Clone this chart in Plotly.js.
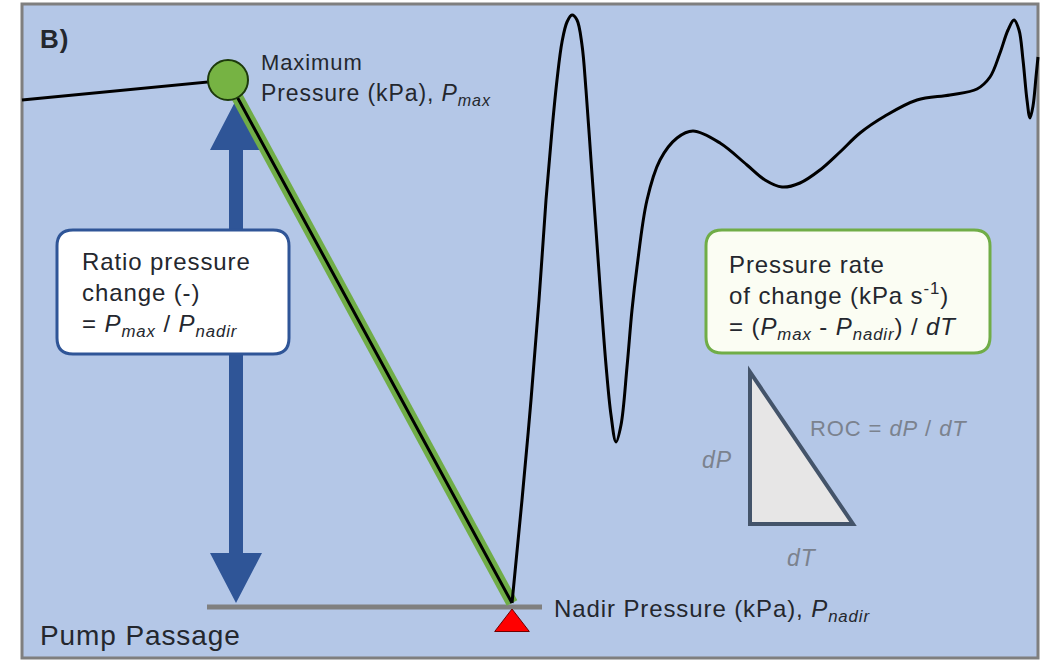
<!DOCTYPE html>
<html><head><meta charset="utf-8">
<script src="https://cdn.plot.ly/plotly-3.0.1.min.js"></script>
<style>html,body{margin:0;padding:0;background:#fff;}#chart{width:1040px;height:662px;}
#chart .annotation-text{letter-spacing:0.9px;}</style>
</head><body><div id="chart"></div>
<script>
// ---- data (time units, pressure units; pressure increases upward) ----
var leadTime = [22, 228, 512];
var leadPressure = [562, 582, 59];

var traceTime = [512, 522, 531, 539, 546, 552, 557, 562, 567, 572, 577, 582, 586, 591, 596, 601, 606, 611, 616, 621, 627, 632, 637, 647, 660, 677, 693, 720, 747, 765, 782, 800, 820, 840, 860, 885, 917, 950, 977, 990, 1000, 1008, 1014, 1019, 1023, 1027, 1030, 1033, 1036, 1038];
var tracePressure = [59, 162, 262, 362, 462, 532, 582, 620, 640, 647, 642, 617, 572, 502, 432, 362, 297, 247, 220, 237, 295, 352, 395, 462, 502, 524, 531, 519, 497, 482, 475, 479, 492, 510, 529, 546, 562, 567, 573, 585, 609, 632, 642, 632, 602, 562, 544, 556, 585, 605];

var maxTime = 228, maxPressure = 582;
var nadirTime = 512, nadirPressure = 59;

// ---- helpers ----
function Y(py){ return 662 - py; } // layout positions in page pixels -> axis units
function roundRect(x0, y0, x1, y1, r){
  var a = Y(y0), b = Y(y1);
  return 'M' + (x0 + r) + ',' + a + ' L' + (x1 - r) + ',' + a + ' Q' + x1 + ',' + a + ' ' + x1 + ',' + (a - r) +
    ' L' + x1 + ',' + (b + r) + ' Q' + x1 + ',' + b + ' ' + (x1 - r) + ',' + b +
    ' L' + (x0 + r) + ',' + b + ' Q' + x0 + ',' + b + ' ' + x0 + ',' + (b + r) +
    ' L' + x0 + ',' + (a - r) + ' Q' + x0 + ',' + a + ' ' + (x0 + r) + ',' + a + ' Z';
}
// double arrow between Pmax (below the marker) and Pnadir
var ax = 236, headH = 50, headW = 26, shaftW = 7;
var aTop = maxPressure - 20, aBot = nadirPressure;
var arrowPath = 'M' + ax + ',' + aTop + ' L' + (ax + headW) + ',' + (aTop - headH) + ' L' + (ax + shaftW) + ',' + (aTop - headH) +
  ' L' + (ax + shaftW) + ',' + (aBot + headH) + ' L' + (ax + headW) + ',' + (aBot + headH) + ' L' + ax + ',' + aBot +
  ' L' + (ax - headW) + ',' + (aBot + headH) + ' L' + (ax - shaftW) + ',' + (aBot + headH) +
  ' L' + (ax - shaftW) + ',' + (aTop - headH) + ' L' + (ax - headW) + ',' + (aTop - headH) + ' Z';

var FONT = 'Liberation Sans, Arial, sans-serif';
var dark = '#24272e', grey = '#7b828e';

var traces = [
  {x: [maxTime, nadirTime], y: [maxPressure, nadirPressure], mode: 'lines', line: {color: '#70AD47', width: 12}, hoverinfo: 'skip'},
  {x: leadTime, y: leadPressure, mode: 'lines', line: {color: '#000', width: 3}, hoverinfo: 'skip'},
  {x: traceTime, y: tracePressure, mode: 'lines', line: {color: '#000', width: 3, shape: 'spline', smoothing: 1}, hoverinfo: 'skip'},
  {x: [maxTime], y: [maxPressure], mode: 'markers', marker: {size: 40, color: '#76B343', line: {color: '#1d3a0c', width: 2}}, hoverinfo: 'skip'},
  {x: [nadirTime], y: [nadirPressure - 21], mode: 'markers', marker: {symbol: 'triangle-up', size: 30, color: '#FF0000', line: {color: '#700000', width: 1}}, hoverinfo: 'skip'}
];

var shapes = [
  {type: 'rect', xref: 'x', yref: 'y', x0: 22, x1: 1038, y0: Y(4), y1: Y(658), fillcolor: '#B4C7E7', line: {color: '#7f7f7f', width: 3}, layer: 'below'},
  {type: 'path', xref: 'x', yref: 'y', path: arrowPath, fillcolor: '#2F5597', line: {width: 0}, layer: 'below'},
  {type: 'path', xref: 'x', yref: 'y', path: roundRect(57, 230, 289, 354, 16), fillcolor: '#FFFFFF', line: {color: '#2F5597', width: 3}, layer: 'below'},
  {type: 'path', xref: 'x', yref: 'y', path: roundRect(706, 230, 990, 353, 16), fillcolor: '#FBFDF3', line: {color: '#70AD47', width: 3}, layer: 'below'},
  {type: 'line', xref: 'x', yref: 'y', x0: 207, x1: 542, y0: nadirPressure - 4, y1: nadirPressure - 4, line: {color: '#808080', width: 5}, layer: 'below'},
  {type: 'path', xref: 'x', yref: 'y', path: 'M750,' + Y(372) + ' L750,' + Y(524) + ' L853,' + Y(524) + ' Z', fillcolor: '#E7E6E6', line: {color: '#44546A', width: 4}, layer: 'below'}
];

function ann(x, top, text, size, color){
  return {x: x, y: Y(top), xref: 'x', yref: 'y', text: text, showarrow: false, xanchor: 'left', yanchor: 'top', align: 'left',
    font: {family: FONT, size: size, color: color}};
}
var annotations = [
  ann(38, 22, '<b>B)</b>', 26, dark),
  ann(259, 48, 'Maximum', 22, dark),
  ann(259, 78, 'Pressure (kPa), <i>P</i><sub><i>max</i></sub>', 23, dark),
  ann(80, 246, 'Ratio pressure<br>change (-)<br>= <i>P</i><sub><i>max</i></sub> / <i>P</i><sub><i>nadir</i></sub>', 24, dark),
  ann(727, 249, 'Pressure rate<br>of change (kPa s<sup>-1</sup>)<br>= (<i>P</i><sub><i>max</i></sub> - <i>P</i><sub><i>nadir</i></sub>) / <i>dT</i>', 24, dark),
  ann(552, 593, 'Nadir Pressure (kPa), <i>P</i><sub><i>nadir</i></sub>', 24, dark),
  ann(38, 618, 'Pump Passage', 28, dark),
  ann(808, 414, 'ROC = <i>dP</i> / <i>dT</i>', 22, grey),
  ann(700, 445, '<i>dP</i>', 23, grey),
  ann(785, 543, '<i>dT</i>', 23, grey)
];

var layout = {
  width: 1040, height: 662,
  margin: {l: 0, r: 0, t: 0, b: 0, pad: 0},
  paper_bgcolor: '#FFFFFF', plot_bgcolor: 'rgba(0,0,0,0)',
  showlegend: false,
  xaxis: {range: [0, 1040], visible: false, fixedrange: true},
  yaxis: {range: [0, 662], visible: false, fixedrange: true},
  shapes: shapes,
  annotations: annotations
};
Plotly.newPlot('chart', traces, layout, {staticPlot: true, displayModeBar: false});
</script>
</body></html>
